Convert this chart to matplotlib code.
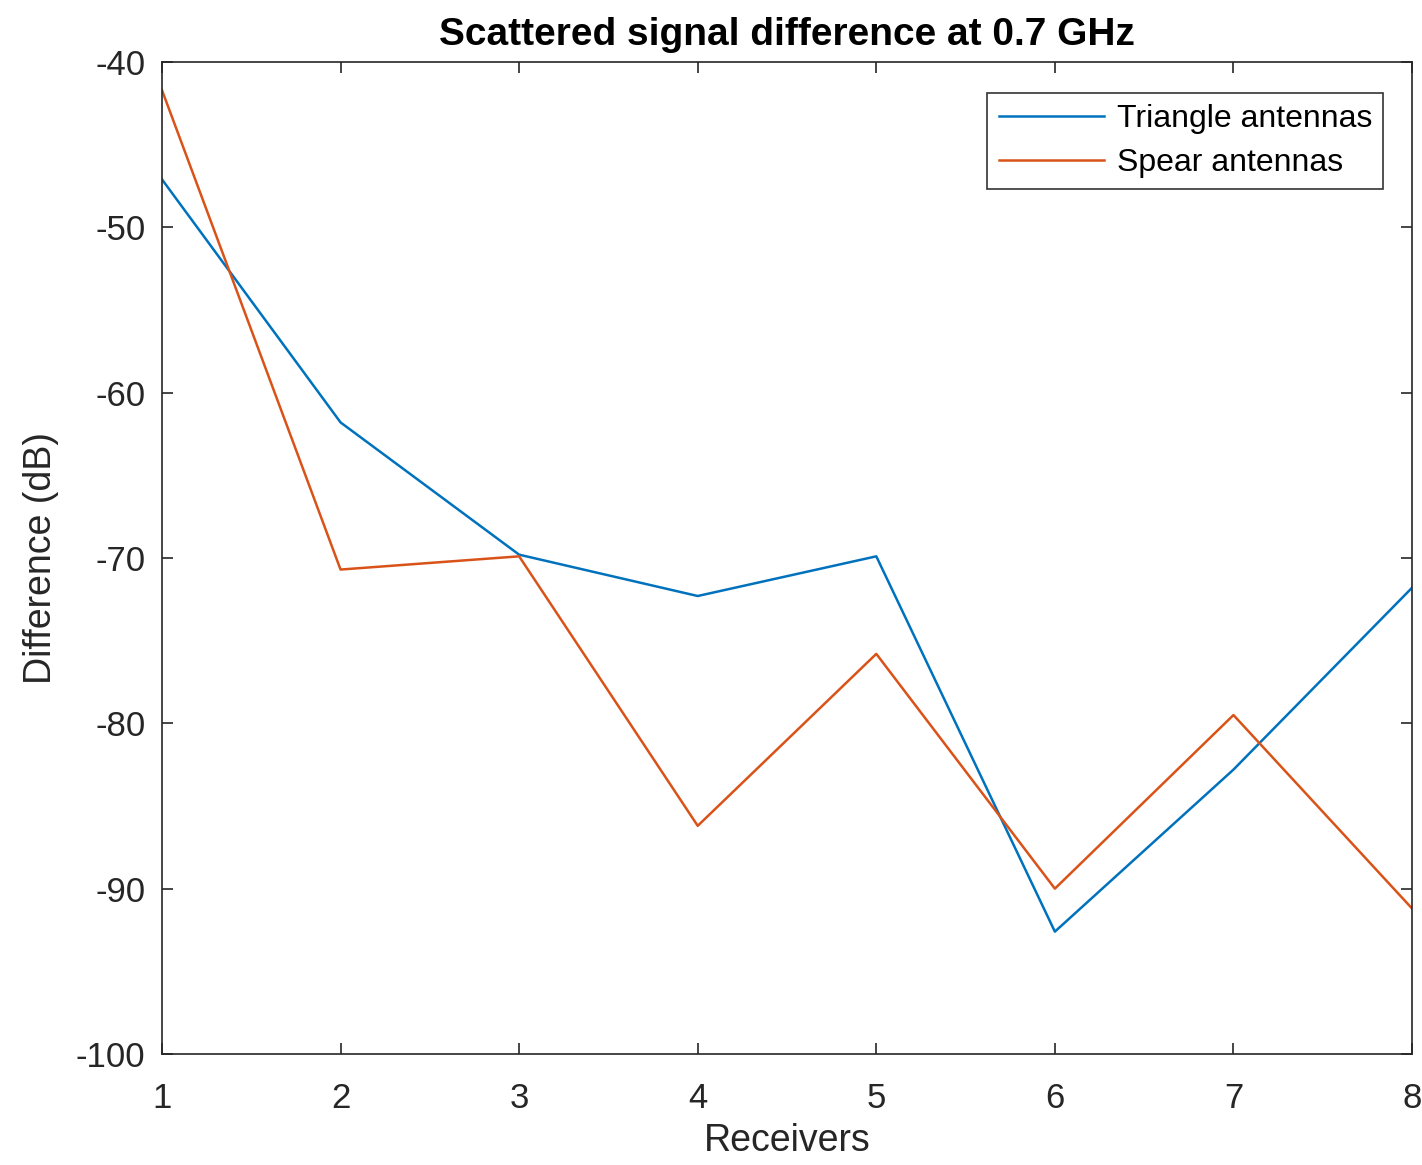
import matplotlib
matplotlib.use("Agg")
import matplotlib.pyplot as plt

receivers = [1, 2, 3, 4, 5, 6, 7, 8]
triangle_db = [-47.1, -61.8, -69.8, -72.3, -69.9, -92.6, -82.8, -71.8]
spear_db = [-41.7, -70.7, -69.9, -86.2, -75.8, -90.0, -79.5, -91.2]

plt.rcParams["font.family"] = ["Liberation Sans", "DejaVu Sans"]
plt.rcParams["axes.unicode_minus"] = False
axis_color = (0.15, 0.15, 0.15)

fig = plt.figure(figsize=(14.22, 11.65), dpi=100)
ax = fig.add_axes([0.1139, 0.0953, 0.8791, 0.8515])

ax.plot(receivers, triangle_db, color="#0072BD", linewidth=1.8, label="Triangle antennas")
ax.plot(receivers, spear_db, color="#D95319", linewidth=1.8, label="Spear antennas")

ax.set_xlim(1, 8)
ax.set_ylim(-100, -40)
ax.set_xticks(receivers)
ax.set_yticks(range(-100, -39, 10))
ax.tick_params(direction="in", top=True, right=True, length=8, width=1.2,
               labelsize=25, colors=axis_color)
ax.tick_params(axis="x", pad=20)
ax.tick_params(axis="y", pad=12)
for spine in ax.spines.values():
    spine.set_color(axis_color)
    spine.set_linewidth(1.2)

ax.set_xlabel("Receivers", fontsize=27, color=axis_color, labelpad=6)
ax.set_ylabel("Difference (dB)", fontsize=27, color=axis_color, labelpad=12)
ax.set_title("Scattered signal difference at 0.7 GHz", fontsize=28,
             fontweight="bold", color="black", pad=12)

leg = ax.legend(loc="upper right", fontsize=23, frameon=True, fancybox=False,
                edgecolor="black", handlelength=3.3, handletextpad=0.4,
                borderaxespad=0, borderpad=0.35, labelspacing=0.45,
                bbox_to_anchor=(0.977, 0.969))
leg.get_frame().set_linewidth(1.2)

fig.savefig("out.png", dpi=100)
